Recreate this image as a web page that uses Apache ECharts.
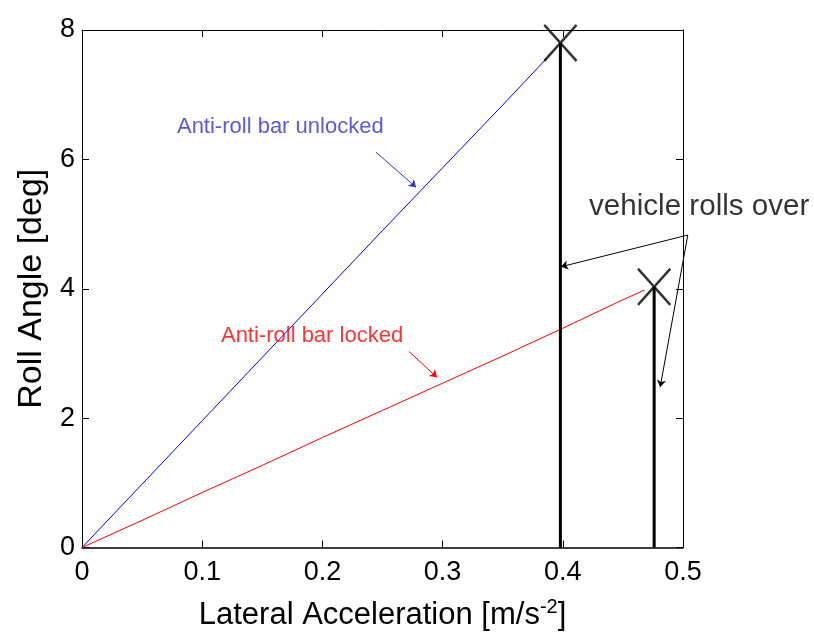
<!DOCTYPE html>
<html>
<head>
<meta charset="utf-8">
<script src="https://cdn.jsdelivr.net/npm/echarts@6/dist/echarts.min.js"></script>
<style>html,body{margin:0;padding:0;background:#fff}#c{width:814px;height:636px}</style>
</head>
<body>
<div id="c"></div>
<script>
// ---- data ----
const xTicks = [0, 0.1, 0.2, 0.3, 0.4, 0.5];
const yTicks = [0, 2, 4, 6, 8];
const unlocked = [[0,0],[0.05,0.98],[0.1,1.96],[0.15,2.94],[0.2,3.92],[0.25,4.9],[0.3,5.87],[0.35,6.84],[0.386,7.55]];
const locked = [[0,0],[0.05,0.42],[0.1,0.85],[0.15,1.27],[0.2,1.7],[0.25,2.12],[0.3,2.54],[0.35,2.96],[0.4,3.39],[0.45,3.83],[0.468,3.98]];
const rolloverUnlocked = [[0.398,0],[0.398,7.8]];
const rolloverLocked = [[0.476,0],[0.476,4.03]];
const rolloverPoints = [[0.398,7.8],[0.476,4.03]];
const arrowsBlue = [[[0.2446,6.11],[0.2779,5.57]]];
const arrowsRed = [[[0.272,3.03],[0.2953,2.63]]];
const arrowsBlack = [[[0.504,4.83],[0.3985,4.34]],[[0.504,4.83],[0.481,2.48]]];
const textBlue = {text:'Anti-roll bar unlocked', pos:[0.079,6.5]};
const textRed = {text:'Anti-roll bar locked', pos:[0.1156,3.27]};
const textBlack = {text:'vehicle rolls over', pos:[0.4218,5.26]};

const FONT = '"Liberation Sans", Arial, sans-serif';
const chart = echarts.init(document.getElementById('c'), null, {renderer:'canvas'});
const xPath = 'path://M1,0 L10,9 L19,0 L20,1 L11,10 L20,19 L19,20 L10,11 L1,20 L0,19 L9,10 L0,1 Z';

function textSeries(t, color, size) {
  return {
    type:'scatter', data:[t.pos], symbolSize:0, silent:true, z:10,
    label:{show:true, position:[0,0], align:'left', verticalAlign:'middle',
      formatter:t.text, color:color, fontSize:size, fontFamily:FONT}
  };
}
function arrowSeries(data, color) {
  return {
    type:'lines', coordinateSystem:'cartesian2d', clip:false, silent:true, z:9,
    symbol:['none','arrow'], symbolSize:7,
    lineStyle:{color:color, width:1, opacity:1},
    data: data.map(d => ({coords:d}))
  };
}
const axisCommon = {
  type:'value', splitLine:{show:false},
  axisLine:{show:true, onZero:false, lineStyle:{color:'#000', width:1}},
  axisTick:{show:true, inside:true, length:7, lineStyle:{color:'#000'}}
};
chart.setOption({
  animation:false,
  backgroundColor:'#fff',
  grid:{left:82, right:131, top:30, bottom:87, containLabel:false},
  xAxis:[
    Object.assign({}, axisCommon, {
      min:0, max:0.5, interval:0.1, position:'bottom',
      axisLine:{show:true, onZero:false, lineStyle:{color:'#000', width:1.5}},
      axisLabel:{fontSize:27, color:'#000', fontFamily:FONT, margin:12,
        formatter:v => xTicks.includes(+v.toFixed(1)) ? (v===0?'0':v.toFixed(1)) : ''},
      name:'{a|Lateral Acceleration [m/s}{s|-2}{a|]}', nameLocation:'middle', nameGap:50,
      nameTextStyle:{rich:{a:{fontSize:31, color:'#000', fontFamily:FONT}, s:{fontSize:20, color:'#000', fontFamily:FONT, verticalAlign:'top', padding:[0,0,16,0]}}}
    }),
    Object.assign({}, axisCommon, {min:0, max:0.5, interval:0.1, position:'top', axisLabel:{show:false}})
  ],
  yAxis:[
    Object.assign({}, axisCommon, {
      min:0, max:8, interval:2, position:'left',
      axisLabel:{fontSize:27, color:'#000', fontFamily:FONT, margin:7,
        formatter:v => yTicks.includes(v) ? String(v) : ''},
      name:'Roll Angle [deg]', nameLocation:'middle', nameGap:29, nameRotate:90,
      nameTextStyle:{fontSize:34, color:'#000', fontFamily:FONT}
    }),
    Object.assign({}, axisCommon, {min:0, max:8, interval:2, position:'right', axisLabel:{show:false}})
  ],
  series:[
    {type:'line', data:unlocked, showSymbol:false, lineStyle:{color:'#0000ff', width:1}, silent:true},
    {type:'line', data:locked, showSymbol:false, lineStyle:{color:'#ff0000', width:1}, silent:true},
    {type:'line', data:rolloverUnlocked, showSymbol:false, lineStyle:{color:'#000', width:3}, silent:true},
    {type:'line', data:rolloverLocked, showSymbol:false, lineStyle:{color:'#000', width:3}, silent:true},
    {type:'scatter', data:rolloverPoints, symbol:xPath, symbolSize:[34,38], itemStyle:{color:'#000'}, silent:true, z:8},
    arrowSeries(arrowsBlue, '#3333cc'),
    arrowSeries(arrowsRed, '#ff0000'),
    arrowSeries(arrowsBlack, '#000'),
    textSeries(textBlue, '#2f2fcf', 22),
    textSeries(textRed, '#ff0000', 22),
    textSeries(textBlack, '#000', 29.6)
  ]
});
</script>
</body>
</html>
